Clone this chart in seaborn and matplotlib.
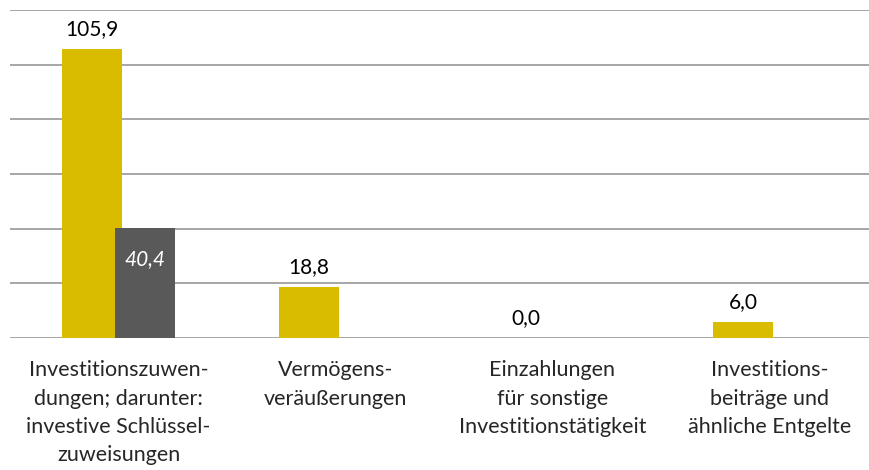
import pandas as pd
import matplotlib.pyplot as plt
import seaborn as sns

categories = [
    'Investitionszuwen-\ndungen; darunter:\ninvestive Schlüssel-\nzuweisungen',
    'Vermögens-\nveräußerungen',
    'Einzahlungen\nfür sonstige\nInvestitionstätigkeit',
    'Investitions-\nbeiträge und\nähnliche Entgelte',
]
gesamt = [105.9, 18.8, 0.0, 6.0]
darunter_cat = [categories[0]]
darunter = [40.4]

df = pd.concat([
    pd.DataFrame({'kategorie': categories, 'wert': gesamt, 'reihe': 'gesamt'}),
    pd.DataFrame({'kategorie': darunter_cat, 'wert': darunter, 'reihe': 'darunter'}),
])

sns.set_style('white')
plt.rcParams['font.family'] = ['Lato', 'DejaVu Sans']

fig = plt.figure(figsize=(8.7, 4.7), dpi=100)
ax = fig.add_axes([10 / 870, 132 / 470, 868 / 870, 328 / 470])

sns.barplot(
    data=df, x='kategorie', y='wert', hue='reihe', order=categories,
    hue_order=['gesamt', 'darunter'], palette=['#D9BC00', '#595959'],
    width=0.488, gap=-0.148, saturation=1, legend=False, linewidth=0, ax=ax,
)

ax.set_ylim(0, 120)
ax.set_xlim(-0.5, 3.5)
ax.set_yticks(range(0, 121, 20))
ax.set_yticklabels([])
ax.yaxis.grid(True, color='#A6A6A6', linewidth=1.4)
ax.set_axisbelow(True)
for s in ax.spines.values():
    s.set_visible(False)
ax.tick_params(axis='both', length=0)
ax.tick_params(axis='x', pad=16, labelsize=15.5)
for lbl in ax.get_xticklabels():
    lbl.set_linespacing(1.52)
ax.set_xlabel('')
ax.set_ylabel('')

fmt = lambda v: f'{v:.1f}'.replace('.', ',')
ax.bar_label(ax.containers[0], labels=[fmt(v) for v in gesamt],
             padding=7, fontsize=15, color='black')
ax.bar_label(ax.containers[1], labels=[fmt(v) for v in darunter],
             padding=-30, fontsize=15, color='white', style='italic')

plt.savefig('out.png', dpi=100)
plt.close()
